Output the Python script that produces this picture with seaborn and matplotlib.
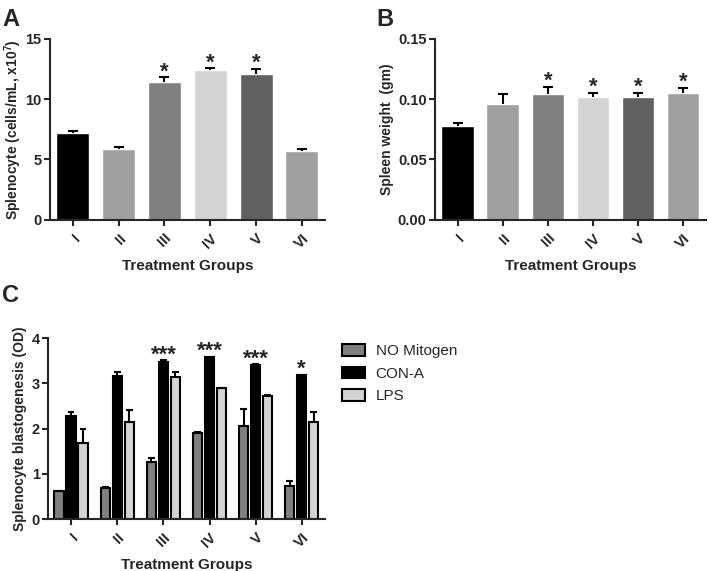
import numpy as np
import pandas as pd
import matplotlib
matplotlib.use("Agg")
import matplotlib.pyplot as plt
import seaborn as sns

# ---------------- data ----------------
groups = ["I", "II", "III", "IV", "V", "VI"]

splen_mean = [7.2, 5.9, 11.4, 12.4, 12.1, 5.7]
splen_err = [0.2, 0.1, 0.4, 0.15, 0.4, 0.2]
splen_sig = ["", "", "*", "*", "*", ""]

weight_mean = [0.078, 0.096, 0.104, 0.102, 0.102, 0.105]
weight_err = [0.002, 0.008, 0.006, 0.003, 0.003, 0.004]
weight_sig = ["", "", "*", "*", "*", "*"]

mitogens = ["NO Mitogen", "CON-A", "LPS"]
blast_nomit = [0.61, 0.69, 1.25, 1.90, 2.05, 0.72]
blast_nomit_err = [0.02, 0.02, 0.09, 0.02, 0.39, 0.11]
blast_cona = [2.27, 3.17, 3.48, 3.58, 3.41, 3.18]
blast_cona_err = [0.09, 0.09, 0.03, 0.01, 0.02, 0.01]
blast_lps = [1.68, 2.14, 3.14, 2.89, 2.72, 2.14]
blast_lps_err = [0.31, 0.26, 0.10, 0.01, 0.02, 0.22]
blast_sig_cona = ["", "", "***", "***", "***", "*"]

bar_colors_ab = ["#000000", "#a0a0a0", "#808080", "#d3d3d3", "#606060", "#a0a0a0"]
mitogen_colors = ["#808080", "#000000", "#d3d3d3"]

# ---------------- style ----------------
sns.set_style("ticks")
plt.rcParams["font.family"] = ["Liberation Sans", "DejaVu Sans"]
plt.rcParams["font.weight"] = "bold"
plt.rcParams["axes.labelweight"] = "bold"
plt.rcParams["mathtext.fontset"] = "custom"
plt.rcParams["mathtext.rm"] = "Liberation Sans:bold"
plt.rcParams["mathtext.bf"] = "Liberation Sans:bold"
plt.rcParams["mathtext.default"] = "bf"
plt.rcParams["axes.linewidth"] = 1.5
plt.rcParams["xtick.major.width"] = 1.5
plt.rcParams["ytick.major.width"] = 1.5
plt.rcParams["xtick.major.size"] = 4
plt.rcParams["ytick.major.size"] = 4
plt.rcParams["ytick.major.pad"] = 2
plt.rcParams["xtick.major.pad"] = 4

fig = plt.figure(figsize=(7.09, 5.71), dpi=100)
axA = fig.add_axes([0.0705, 0.615, 0.3875, 0.317])
axB = fig.add_axes([0.6135, 0.615, 0.382, 0.317])
axC = fig.add_axes([0.068, 0.091, 0.390, 0.317])


def add_err(ax, patches, errs, sigs, capw, sig_off, sig_fs):
    for p, e, s in zip(patches, errs, sigs):
        xc = p.get_x() + p.get_width() / 2
        h = p.get_height()
        ax.vlines(xc, h, h + e, color="black", lw=1.5, zorder=3)
        ax.hlines(h + e, xc - capw / 2, xc + capw / 2, color="black", lw=1.5, zorder=3)
        if s:
            ax.text(xc, h + e + sig_off, s, ha="center", va="bottom",
                    fontsize=sig_fs, fontweight="bold")


def style_axis(ax, ylabel, ylabelpad=3):
    sns.despine(ax=ax)
    ax.set_xlabel("Treatment Groups", fontsize=11, fontweight="bold", labelpad=6)
    ax.set_ylabel(ylabel, fontsize=10, fontweight="bold", labelpad=ylabelpad)
    for lab in ax.get_xticklabels():
        lab.set_rotation(45)
        lab.set_ha("right")
        lab.set_rotation_mode("anchor")
        lab.set_fontsize(10.5)
        lab.set_fontweight("bold")
    for lab in ax.get_yticklabels():
        lab.set_fontsize(10.5)
        lab.set_fontweight("bold")


# ---------------- panel A ----------------
dfA = pd.DataFrame({"group": groups, "value": splen_mean})
sns.barplot(data=dfA, x="group", y="value", hue="group", palette=bar_colors_ab,
            legend=False, errorbar=None, width=0.72, ax=axA, saturation=1)
add_err(axA, axA.patches[:6], splen_err, splen_sig, 0.22, -0.4, 16)
axA.set_ylim(0, 15)
axA.set_yticks([0, 5, 10, 15])
axA.set_xlim(-0.5, 5.5)
style_axis(axA, r"Splenocyte (cells/mL, x10$^{7}$)", ylabelpad=1)

# ---------------- panel B ----------------
dfB = pd.DataFrame({"group": groups, "value": weight_mean})
sns.barplot(data=dfB, x="group", y="value", hue="group", palette=bar_colors_ab,
            legend=False, errorbar=None, width=0.72, ax=axB, saturation=1)
add_err(axB, axB.patches[:6], weight_err, weight_sig, 0.22, -0.004, 16)
axB.set_ylim(0, 0.15)
axB.set_yticks([0, 0.05, 0.10, 0.15])
axB.set_yticklabels(["0.00", "0.05", "0.10", "0.15"])
axB.set_xlim(-0.5, 5.5)
style_axis(axB, "Spleen weight  (gm)")

# ---------------- panel C ----------------
dfC = pd.DataFrame({
    "group": groups * 3,
    "mitogen": [m for m in mitogens for _ in groups],
    "value": blast_nomit + blast_cona + blast_lps,
})
errsC = blast_nomit_err + blast_cona_err + blast_lps_err
sigsC = [""] * 6 + blast_sig_cona + [""] * 6
sns.barplot(data=dfC, x="group", y="value", hue="mitogen", hue_order=mitogens,
            palette=mitogen_colors, errorbar=None, width=0.78, gap=0.2,
            edgecolor="black", linewidth=1.5, ax=axC, saturation=1)
barsC = [p for p in axC.patches if p.get_height() > 0][:18]
add_err(axC, barsC, errsC, sigsC, 0.14, -0.12, 16)
axC.set_ylim(0, 4)
axC.set_yticks([0, 1, 2, 3, 4])
axC.set_xlim(-0.5, 5.5)
style_axis(axC, "Splenocyte blastogenesis (OD)")
leg = axC.legend(loc="upper left", bbox_to_anchor=(1.04, 1.0), frameon=False,
                 fontsize=11, handlelength=1.5, handleheight=0.8,
                 handletextpad=0.7, labelspacing=0.55, borderaxespad=0)
for t in leg.get_texts():
    t.set_fontweight("normal")

# ---------------- panel letters ----------------
fig.text(0.003, 0.965, "A", fontsize=17, fontweight="bold", va="center")
fig.text(0.531, 0.965, "B", fontsize=17, fontweight="bold", va="center")
fig.text(0.003, 0.483, "C", fontsize=17, fontweight="bold", va="center")

fig.savefig("out.png", dpi=100)
